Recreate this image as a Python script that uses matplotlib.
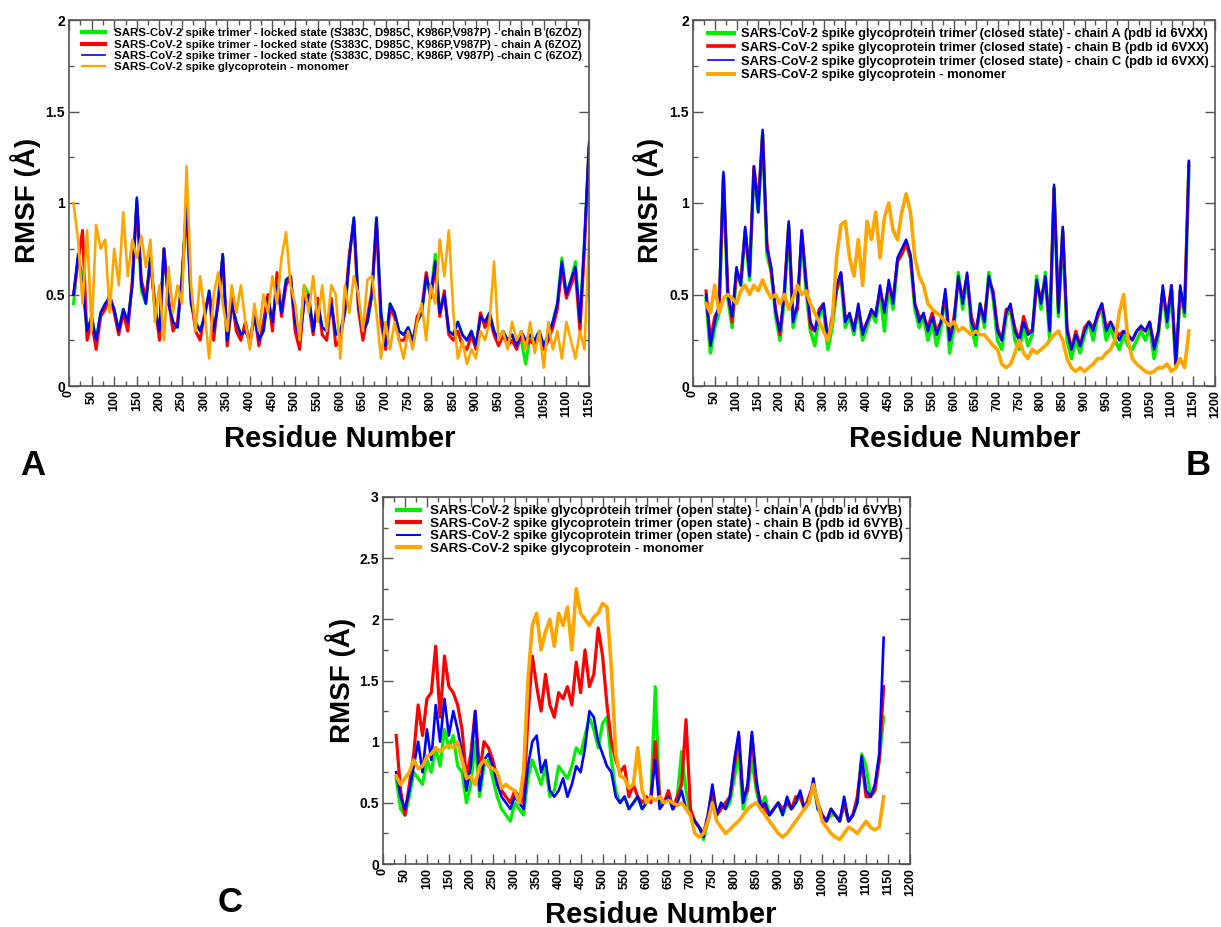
import numpy as np
import matplotlib
matplotlib.use('Agg')
import matplotlib.pyplot as plt
from matplotlib.ticker import MultipleLocator, FormatStrFormatter

plt.rcParams['font.family'] = ['Liberation Sans', 'DejaVu Sans']
plt.rcParams['font.weight'] = 'bold'

# ---------------- panel A : locked trimer (6ZOZ) vs monomer ----------------
res_a = np.arange(10, 1151, 10)

a_chain_b = [0.45, 0.70, 0.60, 0.28, 0.38, 0.25, 0.40, 0.45, 0.48, 0.42,
             0.30, 0.42, 0.35, 0.55, 1.02, 0.52, 0.45, 0.72, 0.42, 0.30,
             0.75, 0.45, 0.35, 0.32, 0.60, 1.00, 0.45, 0.35, 0.30, 0.38,
             0.52, 0.30, 0.45, 0.72, 0.22, 0.45, 0.35, 0.28, 0.30, 0.25,
             0.38, 0.25, 0.30, 0.48, 0.35, 0.55, 0.40, 0.58, 0.60, 0.35,
             0.25, 0.55, 0.50, 0.30, 0.45, 0.32, 0.30, 0.45, 0.28, 0.30,
             0.40, 0.70, 0.92, 0.45, 0.30, 0.35, 0.50, 0.92, 0.40, 0.22,
             0.45, 0.40, 0.30, 0.28, 0.32, 0.25, 0.35, 0.40, 0.58, 0.50,
             0.72, 0.40, 0.50, 0.30, 0.28, 0.35, 0.28, 0.25, 0.30, 0.22,
             0.38, 0.35, 0.40, 0.30, 0.25, 0.30, 0.25, 0.28, 0.22, 0.25,
             0.12, 0.28, 0.25, 0.30, 0.22, 0.28, 0.35, 0.45, 0.70, 0.50,
             0.58, 0.68, 0.35, 0.80, 1.30]

a_chain_a = [0.50, 0.68, 0.85, 0.25, 0.35, 0.20, 0.38, 0.42, 0.50, 0.40,
             0.28, 0.40, 0.30, 0.58, 1.00, 0.58, 0.48, 0.68, 0.45, 0.25,
             0.75, 0.48, 0.30, 0.35, 0.58, 0.98, 0.48, 0.30, 0.25, 0.40,
             0.50, 0.25, 0.48, 0.70, 0.22, 0.48, 0.30, 0.25, 0.35, 0.22,
             0.40, 0.22, 0.35, 0.50, 0.30, 0.62, 0.38, 0.55, 0.60, 0.30,
             0.20, 0.48, 0.45, 0.28, 0.48, 0.28, 0.25, 0.48, 0.22, 0.25,
             0.42, 0.72, 0.90, 0.42, 0.25, 0.38, 0.52, 0.90, 0.35, 0.20,
             0.42, 0.38, 0.25, 0.25, 0.30, 0.22, 0.38, 0.42, 0.62, 0.48,
             0.65, 0.38, 0.52, 0.28, 0.25, 0.30, 0.22, 0.20, 0.28, 0.20,
             0.40, 0.32, 0.38, 0.28, 0.22, 0.28, 0.22, 0.25, 0.20, 0.28,
             0.22, 0.25, 0.22, 0.28, 0.20, 0.25, 0.32, 0.42, 0.65, 0.48,
             0.55, 0.62, 0.30, 0.75, 1.30]

a_chain_c = [0.50, 0.72, 0.55, 0.30, 0.38, 0.25, 0.40, 0.45, 0.48, 0.42,
             0.30, 0.42, 0.35, 0.55, 1.03, 0.55, 0.45, 0.70, 0.42, 0.30,
             0.75, 0.45, 0.35, 0.32, 0.60, 1.00, 0.45, 0.35, 0.30, 0.38,
             0.52, 0.30, 0.45, 0.72, 0.25, 0.45, 0.35, 0.28, 0.30, 0.25,
             0.38, 0.25, 0.30, 0.48, 0.35, 0.55, 0.40, 0.58, 0.60, 0.35,
             0.25, 0.45, 0.50, 0.30, 0.45, 0.32, 0.30, 0.45, 0.28, 0.30,
             0.40, 0.70, 0.92, 0.45, 0.30, 0.35, 0.50, 0.92, 0.40, 0.22,
             0.45, 0.40, 0.30, 0.28, 0.32, 0.25, 0.35, 0.40, 0.60, 0.50,
             0.68, 0.40, 0.50, 0.30, 0.28, 0.35, 0.28, 0.25, 0.30, 0.22,
             0.38, 0.35, 0.40, 0.30, 0.25, 0.30, 0.25, 0.28, 0.22, 0.30,
             0.25, 0.28, 0.25, 0.30, 0.22, 0.28, 0.35, 0.45, 0.68, 0.50,
             0.58, 0.65, 0.35, 0.80, 1.33]

a_monomer = [1.00, 0.80, 0.45, 0.85, 0.30, 0.88, 0.75, 0.80, 0.40, 0.75,
             0.55, 0.95, 0.60, 0.80, 0.70, 0.82, 0.65, 0.80, 0.35, 0.55,
             0.25, 0.65, 0.40, 0.55, 0.45, 1.20, 0.55, 0.30, 0.60, 0.40,
             0.15, 0.50, 0.62, 0.45, 0.30, 0.55, 0.40, 0.55, 0.35, 0.20,
             0.45, 0.30, 0.50, 0.40, 0.60, 0.45, 0.70, 0.84, 0.55, 0.45,
             0.25, 0.55, 0.40, 0.60, 0.35, 0.55, 0.30, 0.55, 0.50, 0.15,
             0.55, 0.40, 0.60, 0.50, 0.30, 0.58, 0.60, 0.40, 0.15, 0.35,
             0.20, 0.35, 0.25, 0.15, 0.30, 0.20, 0.35, 0.45, 0.25, 0.55,
             0.45, 0.80, 0.60, 0.85, 0.40, 0.15, 0.25, 0.12, 0.20, 0.15,
             0.30, 0.25, 0.35, 0.68, 0.25, 0.30, 0.20, 0.35, 0.25, 0.30,
             0.20, 0.35, 0.18, 0.30, 0.10, 0.35, 0.20, 0.30, 0.15, 0.35,
             0.25, 0.15, 0.30, 0.20, 0.80]

labels_a = ['SARS-CoV-2 spike trimer - locked state (S383C, D985C, K986P,V987P) - chain B (6ZOZ)',
            'SARS-CoV-2 spike trimer - locked state (S383C, D985C, K986P,V987P) - chain A (6ZOZ)',
            'SARS-CoV-2 spike trimer - locked state (S383C, D985C, K986P, V987P) -chain C (6ZOZ)',
            'SARS-CoV-2 spike glycoprotein - monomer']

# ---------------- panel B : closed trimer (6VXX) vs monomer ----------------
res_b = np.arange(30, 1141, 10)

b_chain_a = [0.48, 0.18, 0.32, 0.40, 1.15, 0.48, 0.32, 0.62, 0.55, 0.85,
             0.58, 1.18, 0.95, 1.38, 0.72, 0.62, 0.38, 0.25, 0.48, 0.88,
             0.32, 0.42, 0.82, 0.52, 0.30, 0.22, 0.38, 0.42, 0.20, 0.32,
             0.52, 0.60, 0.32, 0.38, 0.28, 0.42, 0.25, 0.32, 0.40, 0.35,
             0.52, 0.30, 0.55, 0.42, 0.68, 0.72, 0.78, 0.70, 0.42, 0.32,
             0.38, 0.25, 0.35, 0.22, 0.32, 0.50, 0.18, 0.32, 0.62, 0.42,
             0.60, 0.32, 0.22, 0.45, 0.32, 0.62, 0.48, 0.25, 0.20, 0.38,
             0.42, 0.25, 0.20, 0.32, 0.22, 0.28, 0.60, 0.42, 0.62, 0.25,
             1.08, 0.38, 0.85, 0.25, 0.15, 0.25, 0.18, 0.28, 0.35, 0.25,
             0.38, 0.42, 0.25, 0.32, 0.25, 0.20, 0.28, 0.22, 0.20, 0.25,
             0.30, 0.25, 0.32, 0.15, 0.28, 0.52, 0.32, 0.52, 0.10, 0.52,
             0.38, 1.20]

b_chain_b = [0.52, 0.25, 0.38, 0.42, 1.15, 0.52, 0.35, 0.62, 0.58, 0.85,
             0.62, 1.20, 1.00, 1.38, 0.78, 0.62, 0.42, 0.28, 0.52, 0.88,
             0.38, 0.42, 0.85, 0.58, 0.32, 0.30, 0.42, 0.45, 0.25, 0.38,
             0.52, 0.62, 0.38, 0.38, 0.32, 0.42, 0.30, 0.35, 0.40, 0.40,
             0.52, 0.42, 0.55, 0.48, 0.68, 0.72, 0.78, 0.70, 0.45, 0.38,
             0.38, 0.32, 0.40, 0.30, 0.35, 0.50, 0.25, 0.38, 0.58, 0.48,
             0.60, 0.38, 0.30, 0.42, 0.38, 0.58, 0.52, 0.32, 0.25, 0.42,
             0.42, 0.32, 0.25, 0.38, 0.30, 0.30, 0.55, 0.48, 0.58, 0.32,
             1.08, 0.42, 0.85, 0.32, 0.20, 0.30, 0.22, 0.32, 0.35, 0.32,
             0.38, 0.45, 0.32, 0.35, 0.30, 0.28, 0.30, 0.28, 0.25, 0.30,
             0.32, 0.30, 0.35, 0.22, 0.30, 0.52, 0.38, 0.55, 0.12, 0.52,
             0.42, 1.22]

b_chain_c = [0.50, 0.22, 0.35, 0.45, 1.17, 0.50, 0.38, 0.65, 0.55, 0.87,
             0.60, 1.20, 0.95, 1.40, 0.75, 0.65, 0.40, 0.30, 0.50, 0.90,
             0.35, 0.45, 0.85, 0.55, 0.35, 0.30, 0.40, 0.45, 0.25, 0.35,
             0.55, 0.62, 0.35, 0.40, 0.30, 0.45, 0.28, 0.35, 0.42, 0.38,
             0.55, 0.40, 0.58, 0.45, 0.70, 0.75, 0.80, 0.72, 0.45, 0.35,
             0.40, 0.30, 0.38, 0.28, 0.35, 0.53, 0.25, 0.35, 0.60, 0.45,
             0.62, 0.35, 0.28, 0.45, 0.35, 0.60, 0.50, 0.30, 0.25, 0.40,
             0.45, 0.30, 0.25, 0.35, 0.28, 0.30, 0.58, 0.45, 0.60, 0.30,
             1.10, 0.40, 0.87, 0.30, 0.20, 0.28, 0.22, 0.30, 0.35, 0.30,
             0.40, 0.45, 0.30, 0.35, 0.30, 0.25, 0.30, 0.28, 0.25, 0.30,
             0.33, 0.30, 0.35, 0.20, 0.30, 0.55, 0.35, 0.55, 0.12, 0.55,
             0.40, 1.23]

b_monomer = [0.45, 0.40, 0.55, 0.40, 0.48, 0.50, 0.48, 0.45, 0.52, 0.55,
             0.50, 0.55, 0.52, 0.58, 0.52, 0.48, 0.50, 0.45, 0.50, 0.42,
             0.48, 0.55, 0.50, 0.52, 0.45, 0.40, 0.35, 0.30, 0.25, 0.35,
             0.70, 0.88, 0.90, 0.70, 0.60, 0.80, 0.55, 0.90, 0.80, 0.95,
             0.70, 0.92, 1.00, 0.85, 0.80, 0.95, 1.05, 0.95, 0.70, 0.60,
             0.55, 0.45, 0.42, 0.40, 0.38, 0.35, 0.33, 0.35, 0.30, 0.32,
             0.30, 0.28, 0.30, 0.28, 0.28, 0.25, 0.22, 0.20, 0.12, 0.10,
             0.12, 0.18, 0.25, 0.18, 0.15, 0.20, 0.18, 0.20, 0.22, 0.25,
             0.28, 0.30, 0.25, 0.15, 0.10, 0.08, 0.10, 0.08, 0.10, 0.12,
             0.15, 0.15, 0.18, 0.20, 0.25, 0.40, 0.50, 0.25, 0.15, 0.12,
             0.10, 0.08, 0.07, 0.08, 0.10, 0.10, 0.12, 0.08, 0.10, 0.15,
             0.10, 0.30]

labels_b = ['SARS-CoV-2 spike glycoprotein trimer (closed state) - chain A (pdb id 6VXX)',
            'SARS-CoV-2 spike glycoprotein trimer (closed state) - chain B (pdb id 6VXX)',
            'SARS-CoV-2 spike glycoprotein trimer (closed state) - chain C (pdb id 6VXX)',
            'SARS-CoV-2 spike glycoprotein - monomer']

# ---------------- panel C : open trimer (6VYB) vs monomer ----------------
res_c = np.arange(30, 1141, 10)

c_chain_a = [0.70, 0.45, 0.40, 0.55, 0.75, 0.70, 0.65, 0.85, 0.75, 0.95,
             0.80, 1.10, 0.95, 1.05, 0.80, 0.75, 0.50, 0.65, 1.00, 0.55,
             0.80, 0.85, 0.70, 0.55, 0.45, 0.40, 0.35, 0.50, 0.45, 0.40,
             0.70, 0.85, 0.75, 0.65, 0.80, 0.55, 0.60, 0.80, 0.75, 0.70,
             0.80, 0.95, 0.90, 1.05, 1.20, 1.10, 0.95, 1.15, 1.20, 0.85,
             0.60, 0.50, 0.55, 0.45, 0.50, 0.55, 0.45, 0.50, 0.55, 1.45,
             0.50, 0.50, 0.55, 0.45, 0.55, 0.92, 0.60, 0.40, 0.35, 0.30,
             0.20, 0.35, 0.55, 0.40, 0.50, 0.45, 0.50, 0.70, 0.90, 0.45,
             0.60, 0.85, 0.60, 0.45, 0.55, 0.40, 0.45, 0.50, 0.40, 0.50,
             0.45, 0.50, 0.55, 0.45, 0.50, 0.65, 0.45, 0.40, 0.35, 0.40,
             0.40, 0.35, 0.50, 0.35, 0.40, 0.50, 0.90, 0.80, 0.55, 0.60,
             0.85, 1.20]

c_chain_b = [1.05, 0.60, 0.40, 0.65, 0.90, 1.30, 1.05, 1.35, 1.40, 1.78,
             1.20, 1.70, 1.45, 1.40, 1.30, 1.10, 0.70, 0.90, 1.25, 0.75,
             1.00, 0.95, 0.85, 0.70, 0.60, 0.55, 0.50, 0.60, 0.55, 0.50,
             1.20, 1.70, 1.45, 1.25, 1.55, 1.30, 1.20, 1.40, 1.35, 1.45,
             1.30, 1.65, 1.40, 1.75, 1.45, 1.55, 1.93, 1.70, 1.30, 1.00,
             0.85, 0.75, 0.80, 0.55, 0.65, 0.55, 0.50, 0.55, 0.50, 1.00,
             0.55, 0.50, 0.60, 0.45, 0.55, 0.65, 1.18, 0.45, 0.35, 0.30,
             0.25, 0.40, 0.60, 0.40, 0.45, 0.50, 0.55, 0.80, 1.05, 0.55,
             0.60, 1.05, 0.65, 0.50, 0.45, 0.40, 0.45, 0.50, 0.45, 0.50,
             0.45, 0.55, 0.55, 0.45, 0.55, 0.65, 0.50, 0.40, 0.35, 0.45,
             0.40, 0.35, 0.50, 0.35, 0.40, 0.55, 0.85, 0.55, 0.55, 0.60,
             0.85, 1.45]

c_chain_c = [0.75, 0.55, 0.45, 0.60, 0.80, 1.00, 0.75, 1.10, 0.85, 1.30,
             1.00, 1.35, 1.05, 1.25, 1.10, 0.90, 0.60, 0.80, 1.25, 0.60,
             0.85, 0.90, 0.80, 0.65, 0.55, 0.50, 0.45, 0.55, 0.50, 0.45,
             0.80, 1.00, 1.05, 0.75, 0.85, 0.60, 0.55, 0.60, 0.70, 0.55,
             0.65, 0.80, 0.75, 0.95, 1.25, 1.20, 1.00, 0.90, 0.80, 0.75,
             0.55, 0.50, 0.55, 0.45, 0.50, 0.55, 0.45, 0.50, 0.55, 0.85,
             0.45, 0.50, 0.55, 0.45, 0.50, 0.60, 0.45, 0.40, 0.35, 0.30,
             0.22, 0.40, 0.65, 0.40, 0.50, 0.45, 0.55, 0.85, 1.08, 0.50,
             0.65, 1.08, 0.70, 0.45, 0.50, 0.40, 0.45, 0.50, 0.40, 0.55,
             0.45, 0.50, 0.60, 0.45, 0.50, 0.70, 0.45, 0.40, 0.35, 0.45,
             0.40, 0.35, 0.55, 0.35, 0.40, 0.50, 0.88, 0.60, 0.55, 0.65,
             0.90, 1.85]

c_monomer = [0.72, 0.65, 0.70, 0.75, 0.85, 0.78, 0.80, 0.88, 0.90, 0.95,
             0.92, 0.95, 0.97, 0.95, 1.00, 0.85, 0.70, 0.72, 0.65, 0.80,
             0.85, 0.80, 0.78, 0.75, 0.62, 0.65, 0.62, 0.60, 0.50, 0.75,
             1.50, 1.95, 2.05, 1.75, 1.90, 2.00, 1.78, 2.05, 1.95, 2.10,
             1.75, 2.25, 2.05, 2.00, 1.95, 2.02, 2.05, 2.13, 2.10, 1.60,
             0.90, 0.72, 0.70, 0.62, 0.65, 0.95, 0.60, 0.50, 0.55, 0.52,
             0.55, 0.50, 0.52, 0.50, 0.48, 0.50, 0.45, 0.40, 0.25, 0.22,
             0.25, 0.35, 0.50, 0.35, 0.30, 0.25, 0.28, 0.32, 0.35, 0.40,
             0.45, 0.48, 0.50, 0.45, 0.40, 0.35, 0.30, 0.25, 0.22, 0.25,
             0.30, 0.35, 0.40, 0.45, 0.50, 0.65, 0.50, 0.35, 0.30, 0.25,
             0.22, 0.20, 0.25, 0.30, 0.28, 0.25, 0.30, 0.35, 0.30, 0.28,
             0.30, 0.55]

labels_c = ['SARS-CoV-2 spike glycoprotein trimer (open state) - chain A (pdb id 6VYB)',
            'SARS-CoV-2 spike glycoprotein trimer (open state) - chain B (pdb id 6VYB)',
            'SARS-CoV-2 spike glycoprotein trimer (open state) - chain C (pdb id 6VYB)',
            'SARS-CoV-2 spike glycoprotein - monomer']

colors = ['#00ee00', '#ff0000', '#0000ff', '#ffa500']

W, H = 1221, 927
fig = plt.figure(figsize=(W / 100, H / 100), dpi=100)


def px_axes(x0, y0, x1, y1):
    # pixel box (top-left origin) -> figure fraction axes
    return fig.add_axes([x0 / W, 1 - y1 / H, (x1 - x0) / W, (y1 - y0) / H])


def style(ax, xmax, ymax):
    ax.set_xlim(0, xmax)
    ax.set_ylim(0, ymax)
    ax.xaxis.set_major_locator(MultipleLocator(50))
    ax.xaxis.set_minor_locator(MultipleLocator(25))
    ax.yaxis.set_major_locator(MultipleLocator(0.5))
    ax.yaxis.set_minor_locator(MultipleLocator(0.25))
    ax.yaxis.set_major_formatter(FormatStrFormatter('%g'))
    ax.tick_params(which='both', direction='in', top=True, right=True,
                   color='#555555', width=1)
    ax.tick_params(which='major', length=7)
    ax.tick_params(which='minor', length=3.5)
    ax.tick_params(axis='x', labelsize=9, labelrotation=90, pad=3)
    ax.tick_params(axis='y', labelsize=10, pad=3)
    for s in ax.spines.values():
        s.set_color('#555555')
        s.set_linewidth(1.2)


def panel(ax, res, series, labels, lws, leg_lws, fsize, anchor, hlen, hpad, lspace):
    for ys, c, lw, lab in zip(series, colors, lws, labels):
        ax.plot(res, ys, color=c, lw=lw, label=lab)
    leg = ax.legend(loc='upper left', bbox_to_anchor=anchor, frameon=False,
                    borderpad=0, borderaxespad=0, handlelength=hlen,
                    handletextpad=hpad, labelspacing=lspace,
                    prop={'size': fsize, 'weight': 'bold'})
    for ln, w in zip(leg.get_lines(), leg_lws):
        ln.set_linewidth(w)


axA = px_axes(69, 20, 589, 386)
panel(axA, res_a, [a_chain_b, a_chain_a, a_chain_c, a_monomer], labels_a,
      [2.2, 2.2, 1.8, 1.9], [3.0, 3.0, 1.2, 1.6], 8.2,
      (0.025, 0.977), 2.0, 0.8, 0.1)
style(axA, 1150, 2)

axB = px_axes(693, 20, 1215, 386)
panel(axB, res_b, [b_chain_a, b_chain_b, b_chain_c, b_monomer], labels_b,
      [2.5, 2.2, 1.8, 2.6], [3.0, 2.6, 1.2, 2.8], 9.4,
      (0.029, 0.978), 2.0, 0.55, 0.12)
style(axB, 1200, 2)

axC = px_axes(383, 497, 910, 864)
panel(axC, res_c, [c_chain_a, c_chain_b, c_chain_c, c_monomer], labels_c,
      [2.3, 2.3, 1.9, 2.6], [3.0, 3.0, 1.4, 3.0], 9.6,
      (0.027, 0.978), 1.7, 0.75, 0.01)
style(axC, 1200, 3)


def ftext(x, y, s, **kw):
    fig.text(x / W, 1 - y / H, s, **kw)


for x, y in [(26, 200), (649, 200), (341, 680)]:
    ftext(x, y, 'RMSF (Å)', rotation=90, ha='center', va='center',
          fontsize=20, fontweight='bold')
for x, y in [(340, 447), (965, 447), (661, 923)]:
    ftext(x, y, 'Residue Number', ha='center', va='baseline',
          fontsize=21, fontweight='bold')
for x, y, s in [(33, 465, 'A'), (1198, 465, 'B'), (230, 903, 'C')]:
    ftext(x, y, s, ha='center', va='center', fontsize=25, fontweight='bold')

fig.savefig('out.png', dpi=100, facecolor='white')
